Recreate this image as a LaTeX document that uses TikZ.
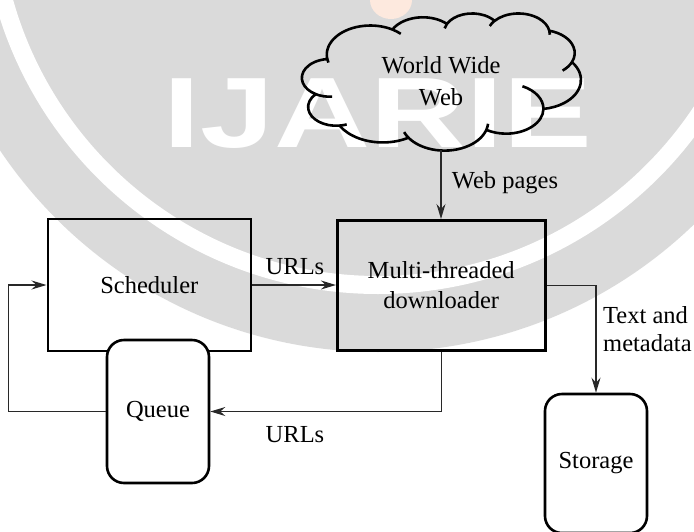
\documentclass[tikz,border=0pt]{standalone}
\usepackage{fontspec}
\setmainfont{Liberation Serif}
\newfontfamily\markfont{Liberation Sans}
\usetikzlibrary{arrows.meta}
\definecolor{markgray}{RGB}{218,218,218}
\definecolor{markpeach}{RGB}{253,233,222}
\definecolor{linegray}{RGB}{40,40,40}
\begin{document}
\begin{tikzpicture}[x=1pt,y=-1pt,
  every node/.style={inner sep=0pt, font=\fontsize{24.5}{30}\selectfont},
  blk/.style={draw, line width=2.6pt, align=center},
  store/.style={draw, line width=2.6pt, rounded corners=17pt, fill=white},
  flow/.style={line width=1.3pt, draw=linegray, -{Stealth[length=15pt,width=9pt,inset=5pt]}},
  lbl/.style={text=black}
]
\useasboundingbox (0,0) rectangle (694,531);

% faint logo in the background
\begin{scope}
  \clip (0,0) rectangle (694,531);
  \fill[markgray] (378,-103) circle[radius=455];
  \draw[white, line width=18pt] (378,-103) circle[radius=388];
  \fill[markpeach] (391,0) ellipse[x radius=21, y radius=19];
  \node[white, anchor=base west, xscale=1.33,
        font=\markfont\bfseries\fontsize{100}{100}\selectfont] (mark) at (163,147) {IJARIE};
\end{scope}

% cloud outline (eleven puffs plus the short inner hooks)
\begin{scope}[shift={(302pt,-13pt)}, x=0.0064583pt, y=-0.0031713pt, line width=2.6pt, line join=round]
  \draw (3900,14370) coordinate (c0)
    arc[start angle=172.26, delta angle=128.13, x radius=6753, y radius=9190] coordinate (c1)
    arc[start angle=-152.02, delta angle=106.57, x radius=5333, y radius=7267] coordinate (c2)
    arc[start angle=-153.50, delta angle=116.15, x radius=4365, y radius=5945] coordinate (c3)
    arc[start angle=-139.71, delta angle=129.50, x radius=4857, y radius=6595] coordinate (c4)
    arc[start angle=-74.81, delta angle=98.08, x radius=5333, y radius=7273] coordinate (c5)
    arc[start angle=-37.53, delta angle=119.40, x radius=6775, y radius=9220] coordinate (c6)
    arc[start angle=0.46, delta angle=121.51, x radius=5785, y radius=7867] coordinate (c7)
    arc[start angle=16.90, delta angle=129.24, x radius=6752, y radius=9215] coordinate (c8)
    arc[start angle=58.98, delta angle=91.20, x radius=7720, y radius=10543] coordinate (c9)
    arc[start angle=83.31, delta angle=139.80, x radius=4360, y radius=5918] coordinate (c10)
    arc[start angle=120.36, delta angle=143.75, x radius=4345, y radius=5945] -- cycle;
  \draw (c0) arc[start angle=172.26, delta angle=-8, x radius=6753, y radius=9190];
  \draw (c1) arc[start angle=-59.61, delta angle=13.89, x radius=6753, y radius=9190];
  \draw (c2) arc[start angle=-153.50, delta angle=-14.22, x radius=4365, y radius=5945];
  \draw (c3) arc[start angle=-139.71, delta angle=-16.58, x radius=4857, y radius=6595];
  \draw (c4) arc[start angle=-10.21, delta angle=11.03, x radius=4857, y radius=6595];
  \draw (c5) arc[start angle=23.27, delta angle=26.38, x radius=5333, y radius=7273];
  \draw (c6) arc[start angle=0.46, delta angle=-64.49, x radius=5785, y radius=7867];
  \draw (c7) arc[start angle=16.90, delta angle=-12.17, x radius=6752, y radius=9215];
  \draw (c8) arc[start angle=146.14, delta angle=12.33, x radius=6752, y radius=9215];
  \draw (c9) arc[start angle=83.31, delta angle=-15.08, x radius=4360, y radius=5918];
  \draw (c10) arc[start angle=120.36, delta angle=-34.82, x radius=4345, y radius=5945];
\end{scope}

% nodes
\node[align=center, minimum width=279pt, minimum height=137pt,
      font=\fontsize{24.5}{32}\selectfont] (web) at (441,81.5) {World Wide\\Web};
\node[blk, minimum width=203pt, minimum height=132pt] (sched) at (149.3,285) {Scheduler};
\node[blk, minimum width=208pt, minimum height=130pt] (dl) at (441.2,285.3) {Multi-threaded\\downloader};
\node[store, minimum width=102pt, minimum height=143pt] (queue) at (158,411.5) {Queue};
\node[store, minimum width=102pt, minimum height=139pt] (storage) at (596,463.5) {Storage};

% connectors
\draw[flow] (web.south) -- (web.south |- dl.north);
\draw[flow] (sched.east) -- (sched.east -| dl.west);
\draw[flow] (dl.south) |- (queue.east);
\draw[flow] (queue.west) -- ++(-97,0) |- (sched.west);
\draw[flow] (dl.east) -| (storage.north);

% connector labels
\node[lbl, anchor=base west] (lweb) at (451.7,188) {Web pages};
\node[lbl] (lurl1) at (295,266.7) {URLs};
\node[lbl] (lurl2) at (295,435) {URLs};
\node[lbl, anchor=north west, align=left, font=\fontsize{24.5}{28}\selectfont] (ltext) at (603,306.5) {Text and\\metadata};
\end{tikzpicture}
\end{document}
